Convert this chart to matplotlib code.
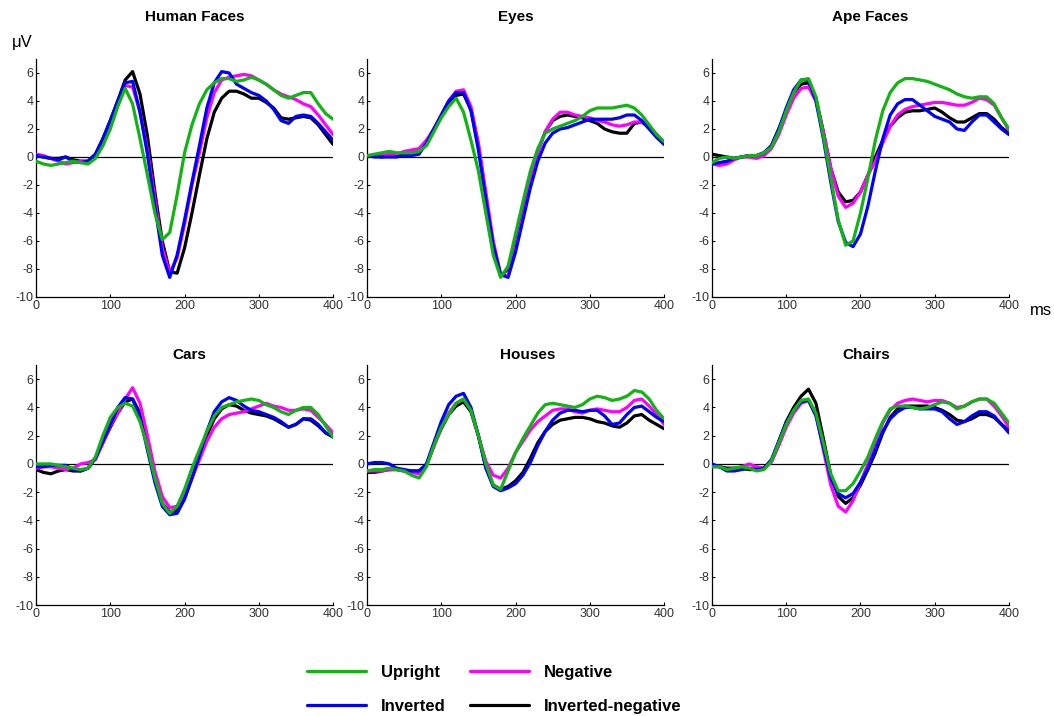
import numpy as np
import matplotlib
matplotlib.use('Agg')
import matplotlib.pyplot as plt

plt.rcParams['font.family'] = ['Liberation Sans', 'DejaVu Sans']
plt.rcParams['axes.unicode_minus'] = False

# time axis (ms), one sample every 10 ms
t = np.arange(0, 401, 10)

conditions = ['Upright', 'Inverted', 'Negative', 'Inverted-negative']
colors = {'Upright': '#12b312', 'Inverted': '#0000ff',
          'Negative': '#ff00ff', 'Inverted-negative': '#000000'}
zorders = {'Upright': 5, 'Inverted': 4, 'Negative': 3, 'Inverted-negative': 2}

panels = ['Human Faces', 'Eyes', 'Ape Faces', 'Cars', 'Houses', 'Chairs']

# ERP amplitudes (uV)
human_upright = [-0.3,-0.5,-0.6,-0.5,-0.4,-0.3,-0.4,-0.5,-0.1,0.8,2.0,3.6,4.9,3.8,1.3,-1.3,-4.0,-5.9,-5.4,-2.7,0.3,2.3,3.8,4.8,5.3,5.6,5.6,5.4,5.5,5.7,5.5,5.2,4.8,4.4,4.2,4.4,4.6,4.6,3.8,3.1,2.7]
human_inverted = [0.1,0.0,-0.1,-0.2,0.0,-0.3,-0.4,-0.3,0.2,1.3,2.6,4.0,5.3,5.4,3.2,0.2,-3.5,-7.0,-8.6,-7.0,-4.5,-1.8,0.8,3.5,5.3,6.1,6.0,5.2,4.9,4.6,4.4,4.0,3.4,2.6,2.4,2.9,3.0,2.9,2.4,1.8,1.2]
human_negative = [0.2,0.1,-0.1,-0.3,-0.5,-0.4,-0.3,-0.3,0.1,1.2,2.5,3.9,5.1,5.0,3.2,0.5,-3.0,-6.5,-8.3,-7.2,-4.8,-2.0,0.3,2.8,4.6,5.5,5.7,5.8,5.9,5.8,5.5,5.2,4.8,4.5,4.3,4.1,3.8,3.6,3.0,2.3,1.6]
human_invneg = [0.1,0.0,-0.1,-0.1,0.0,-0.2,-0.3,-0.3,0.2,1.3,2.6,4.0,5.5,6.1,4.5,1.5,-2.5,-6.0,-8.2,-8.3,-6.5,-4.0,-1.3,1.3,3.2,4.2,4.7,4.7,4.5,4.2,4.2,3.9,3.5,2.8,2.7,2.8,2.9,2.8,2.3,1.6,0.9]

eyes_upright = [0.1,0.2,0.3,0.4,0.3,0.3,0.3,0.4,0.8,1.8,2.8,3.6,4.2,3.2,1.2,-1.0,-4.0,-7.0,-8.6,-7.8,-5.5,-3.2,-1.0,0.6,1.7,2.0,2.2,2.4,2.6,2.9,3.3,3.5,3.5,3.5,3.6,3.7,3.5,3.0,2.3,1.6,1.1]
eyes_inverted = [0.1,0.0,0.0,0.0,0.0,0.1,0.1,0.2,1.0,2.0,3.0,4.0,4.6,4.6,3.3,0.5,-3.0,-6.3,-8.4,-8.6,-6.8,-4.5,-2.2,-0.3,1.0,1.7,2.0,2.1,2.3,2.5,2.7,2.7,2.7,2.7,2.8,3.0,3.0,2.6,2.0,1.4,0.9]
eyes_negative = [0.1,0.1,0.1,0.2,0.2,0.4,0.5,0.6,1.2,2.0,3.0,4.0,4.7,4.8,3.6,1.0,-2.5,-6.0,-8.4,-8.5,-6.5,-4.2,-1.8,0.3,1.8,2.7,3.2,3.2,3.0,2.9,2.8,2.6,2.5,2.3,2.2,2.3,2.5,2.5,2.2,1.6,1.0]
eyes_invneg = [0.1,0.1,0.0,0.1,0.2,0.3,0.4,0.5,1.0,2.0,2.9,3.8,4.4,4.5,3.4,0.8,-2.8,-6.5,-8.5,-8.0,-6.0,-3.8,-1.6,0.4,1.8,2.6,2.9,3.0,2.9,2.8,2.6,2.4,2.0,1.8,1.7,1.7,2.4,2.5,2.1,1.6,1.0]

ape_upright = [-0.4,-0.1,0.0,-0.1,0.0,0.1,0.1,0.3,0.7,1.8,3.3,4.6,5.5,5.6,4.3,1.5,-1.5,-4.5,-6.3,-6.0,-4.0,-1.5,1.2,3.3,4.6,5.3,5.6,5.6,5.5,5.4,5.2,5.0,4.8,4.5,4.3,4.2,4.3,4.3,3.8,2.8,2.0]
ape_inverted = [-0.5,-0.4,-0.3,-0.1,0.0,0.1,0.1,0.3,0.8,2.0,3.5,4.8,5.5,5.5,4.0,1.3,-1.8,-4.6,-6.1,-6.4,-5.5,-3.5,-1.0,1.3,3.0,3.8,4.1,4.1,3.7,3.3,2.9,2.7,2.5,2.0,1.9,2.5,3.0,3.0,2.5,2.0,1.6]
ape_negative = [-0.5,-0.6,-0.5,-0.2,0.0,0.0,-0.1,0.1,0.6,1.6,3.0,4.2,4.9,5.0,4.0,1.8,-0.8,-2.8,-3.6,-3.3,-2.5,-1.3,-0.3,1.0,2.2,3.0,3.4,3.6,3.7,3.8,3.9,3.9,3.8,3.7,3.7,3.9,4.2,4.1,3.7,2.8,1.9]
ape_invneg = [0.2,0.1,0.0,-0.1,0.0,0.1,0.1,0.3,0.8,2.0,3.3,4.6,5.2,5.3,4.2,1.8,-0.8,-2.5,-3.2,-3.1,-2.5,-1.3,0.0,1.2,2.2,2.8,3.2,3.3,3.3,3.4,3.5,3.2,2.8,2.5,2.5,2.8,3.1,3.1,2.7,2.1,1.7]

cars_upright = [0.0,0.0,0.0,-0.1,-0.2,-0.3,-0.4,-0.3,0.5,2.0,3.3,4.0,4.3,4.1,3.0,1.2,-1.0,-2.8,-3.5,-3.0,-1.8,-0.3,1.0,2.3,3.4,4.0,4.2,4.4,4.5,4.6,4.5,4.2,4.0,3.7,3.5,3.8,4.0,4.0,3.5,2.7,1.9]
cars_inverted = [-0.2,-0.2,-0.1,-0.1,-0.1,-0.4,-0.5,-0.3,0.4,1.6,2.8,4.0,4.7,4.6,3.3,1.0,-1.3,-3.0,-3.6,-3.5,-2.5,-1.0,0.6,2.3,3.7,4.4,4.7,4.5,4.1,3.8,3.7,3.5,3.3,3.0,2.6,2.8,3.2,3.2,2.8,2.2,2.0]
cars_negative = [-0.3,-0.2,-0.2,-0.3,-0.4,-0.3,0.0,0.1,0.3,1.5,2.7,3.6,4.6,5.4,4.3,2.0,-0.5,-2.3,-3.1,-3.0,-2.2,-1.0,0.3,1.6,2.6,3.2,3.5,3.6,3.7,3.9,4.1,4.3,4.1,4.0,3.8,3.8,3.9,3.8,3.3,2.8,2.2]
cars_invneg = [-0.4,-0.6,-0.7,-0.5,-0.4,-0.5,-0.5,-0.3,0.4,1.5,2.6,3.6,4.4,4.6,3.6,1.4,-1.0,-2.8,-3.4,-3.3,-2.4,-1.0,0.5,2.0,3.2,3.9,4.2,4.1,3.8,3.6,3.5,3.4,3.2,2.9,2.6,2.8,3.2,3.1,2.7,2.2,1.9]

houses_upright = [-0.5,-0.4,-0.4,-0.3,-0.4,-0.5,-0.8,-1.0,-0.2,1.3,2.6,3.5,4.3,4.6,3.8,2.0,0.0,-1.5,-1.8,-0.5,0.8,1.8,2.7,3.6,4.2,4.3,4.2,4.1,4.0,4.2,4.6,4.8,4.7,4.5,4.6,4.8,5.2,5.1,4.6,3.8,3.2]
houses_inverted = [0.0,0.1,0.1,0.0,-0.3,-0.4,-0.5,-0.5,0.0,1.5,3.0,4.2,4.8,5.0,4.0,2.0,-0.3,-1.6,-1.9,-1.7,-1.4,-0.8,0.1,1.3,2.3,3.1,3.6,3.8,3.8,3.7,3.8,3.8,3.4,2.8,2.9,3.5,4.0,4.1,3.7,3.3,3.0]
houses_negative = [-0.5,-0.5,-0.5,-0.4,-0.4,-0.5,-0.6,-0.7,-0.1,1.2,2.6,3.6,4.3,4.6,3.8,2.0,0.2,-0.8,-1.0,-0.3,0.8,1.6,2.4,3.0,3.4,3.8,3.9,3.9,3.7,3.6,3.8,3.9,3.8,3.7,3.7,4.0,4.5,4.6,4.1,3.5,2.8]
houses_invneg = [-0.6,-0.6,-0.5,-0.4,-0.4,-0.5,-0.5,-0.5,-0.1,1.3,2.5,3.5,4.1,4.4,3.7,2.0,-0.2,-1.5,-1.8,-1.6,-1.2,-0.6,0.4,1.5,2.3,2.8,3.1,3.2,3.3,3.3,3.2,3.0,2.9,2.7,2.6,2.9,3.4,3.5,3.1,2.8,2.5]

chairs_upright = [-0.2,-0.2,-0.4,-0.3,-0.2,-0.3,-0.5,-0.4,0.2,1.5,2.8,3.8,4.5,4.6,3.6,1.5,-0.7,-1.9,-1.9,-1.4,-0.5,0.5,1.8,3.0,3.9,4.1,4.1,4.0,3.9,4.0,4.2,4.4,4.3,3.9,4.1,4.4,4.6,4.6,4.3,3.6,2.9]
chairs_inverted = [0.0,-0.2,-0.5,-0.5,-0.4,-0.3,-0.4,-0.3,0.3,1.6,2.9,3.8,4.4,4.5,3.4,1.2,-1.0,-2.1,-2.4,-2.1,-1.3,-0.3,1.0,2.3,3.2,3.7,4.0,4.0,3.9,3.9,3.9,3.7,3.2,2.8,3.0,3.4,3.7,3.7,3.4,2.8,2.2]
chairs_negative = [-0.2,-0.2,-0.4,-0.4,-0.2,0.0,-0.2,-0.3,0.1,1.3,2.6,3.6,4.3,4.5,3.5,1.0,-1.5,-3.0,-3.4,-2.6,-1.3,0.0,1.5,2.9,3.8,4.3,4.5,4.6,4.5,4.4,4.5,4.5,4.3,4.0,4.1,4.4,4.6,4.6,4.1,3.4,2.6]
chairs_invneg = [-0.1,-0.2,-0.3,-0.3,-0.3,-0.4,-0.4,-0.3,0.2,1.6,3.0,4.0,4.8,5.3,4.3,1.8,-0.8,-2.3,-2.8,-2.4,-1.5,-0.4,0.8,2.2,3.3,3.9,4.1,4.1,4.1,4.1,4.0,3.8,3.5,3.1,3.0,3.2,3.5,3.5,3.3,2.8,2.4]

data = {
    'Human Faces': [human_upright, human_inverted, human_negative, human_invneg],
    'Eyes': [eyes_upright, eyes_inverted, eyes_negative, eyes_invneg],
    'Ape Faces': [ape_upright, ape_inverted, ape_negative, ape_invneg],
    'Cars': [cars_upright, cars_inverted, cars_negative, cars_invneg],
    'Houses': [houses_upright, houses_inverted, houses_negative, houses_invneg],
    'Chairs': [chairs_upright, chairs_inverted, chairs_negative, chairs_invneg],
}

fig = plt.figure(figsize=(10.54, 7.16), dpi=100)

lefts = [0.0342, 0.3482, 0.6755]
width = 0.2818
rows = [(0.5852, 0.3324), (0.155, 0.335)]
title_x = [0.535, 0.50, 0.534, 0.515, 0.542, 0.52]
title_y = [1.176, 1.176, 1.176, 1.042, 1.042, 1.042]

lines = {}
for k, name in enumerate(panels):
    r, c = divmod(k, 3)
    ax = fig.add_axes([lefts[c], rows[r][0], width, rows[r][1]])
    for cond, y in zip(conditions, data[name]):
        ln, = ax.plot(t, y, color=colors[cond], lw=2.3, zorder=zorders[cond],
                      solid_joinstyle='round', solid_capstyle='round')
        lines[cond] = ln
    ax.axhline(0, color='black', lw=0.9, zorder=1)
    ax.set_xlim(0, 400)
    ax.set_ylim(-10, 7)
    ax.set_xticks([0, 100, 200, 300, 400])
    ax.set_yticks(np.arange(-10, 7, 2))
    ax.spines['top'].set_visible(False)
    ax.spines['right'].set_visible(False)
    for s in ['left', 'bottom']:
        ax.spines[s].set_linewidth(0.9)
    ax.tick_params(direction='in', length=2.5, width=0.8, labelsize=9,
                   labelcolor='#333333', pad=2)
    ax.text(title_x[k], title_y[k], name, transform=ax.transAxes, ha='center',
            va='center', fontsize=11, fontweight='bold')

fig.text(0.0114, 0.941, 'μV', fontsize=12, ha='left', va='center')
fig.text(0.977, 0.567, 'ms', fontsize=12, ha='left', va='center')

fig.legend([lines[c] for c in conditions], conditions, ncol=2,
           loc='center', bbox_to_anchor=(0.469, 0.037), frameon=False,
           prop={'weight': 'bold', 'size': 12}, handlelength=3.5,
           handletextpad=0.9, columnspacing=1.5, labelspacing=1.15)

fig.savefig('out.png', dpi=100)
